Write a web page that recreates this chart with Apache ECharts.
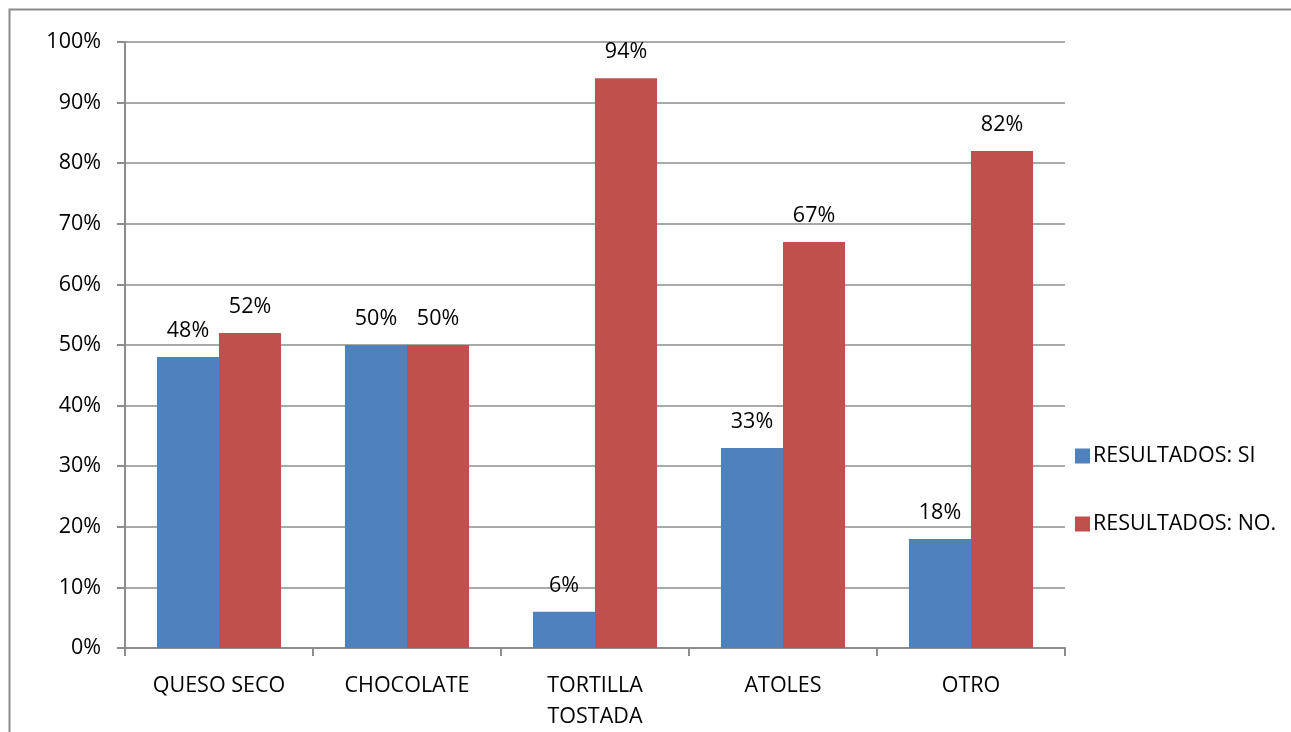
<!DOCTYPE html>
<html>
<head>
<meta charset="utf-8">
<script src="https://cdn.jsdelivr.net/npm/echarts@6/dist/echarts.min.js"></script>
<style>
  html, body { margin: 0; padding: 0; background: #fff; overflow: hidden; }
  #chart { width: 1291px; height: 732px; }
</style>
</head>
<body>
<div id="chart"></div>
<script>
const categories = ['QUESO SECO', 'CHOCOLATE', 'TORTILLA\nTOSTADA', 'ATOLES', 'OTRO'];
const seriesNames = ['RESULTADOS: SI', 'RESULTADOS: NO.'];
const valuesSi = [48, 50, 6, 33, 18];
const valuesNo = [52, 50, 94, 67, 82];

const FONT = '"Open Sans", "Liberation Sans", sans-serif';
const FONT_SIZE = 21.5;
const GRID_COLOR = '#8c8c8c';

const chart = echarts.init(document.getElementById('chart'), null, { renderer: 'canvas' });

const labelStyle = {
  show: true,
  position: 'top',
  distance: 15,
  formatter: p => p.value + '%',
  color: '#000',
  fontFamily: FONT,
  fontSize: FONT_SIZE
};

chart.setOption({
  animation: false,
  backgroundColor: '#fff',
  graphic: [{
    type: 'rect',
    shape: { x: 9.5, y: 9.5, width: 1400, height: 800 },
    style: { fill: 'none', stroke: '#8c8c8c', lineWidth: 2 },
    silent: true,
    z: -1
  }],
  grid: { left: 125, width: 940, top: 42, height: 613, containLabel: false },
  legend: {
    orient: 'vertical',
    left: 1070,
    top: 440,
    itemWidth: 15,
    itemHeight: 15,
    itemGap: 46,
    icon: 'rect',
    textStyle: { fontFamily: FONT, fontSize: FONT_SIZE, color: '#000', padding: [0, 0, 0, -2] },
    data: seriesNames
  },
  xAxis: {
    type: 'category',
    data: categories,
    axisLine: { show: true, lineStyle: { color: GRID_COLOR, width: 2 } },
    axisTick: { show: true, alignWithLabel: false, length: 8, lineStyle: { color: GRID_COLOR, width: 2 } },
    axisLabel: { fontFamily: FONT, fontSize: FONT_SIZE, color: '#000', margin: 22, lineHeight: 31 }
  },
  yAxis: {
    type: 'value',
    min: 0,
    max: 100,
    interval: 10,
    axisLine: { show: true, lineStyle: { color: GRID_COLOR, width: 2 } },
    axisTick: { show: true, length: 8, lineStyle: { color: GRID_COLOR, width: 2 } },
    splitLine: { show: true, lineStyle: { color: GRID_COLOR, width: 1.5 } },
    axisLabel: { fontFamily: FONT, fontSize: FONT_SIZE, color: '#000', margin: 24, formatter: '{value}%' }
  },
  series: [
    {
      name: seriesNames[0],
      type: 'bar',
      data: valuesSi,
      barGap: '0%',
      barCategoryGap: '34%',
      itemStyle: { color: '#4F81BD' },
      label: labelStyle
    },
    {
      name: seriesNames[1],
      type: 'bar',
      data: valuesNo,
      barGap: '0%',
      barCategoryGap: '34%',
      itemStyle: { color: '#C0504D' },
      label: labelStyle
    }
  ]
});
</script>
</body>
</html>
